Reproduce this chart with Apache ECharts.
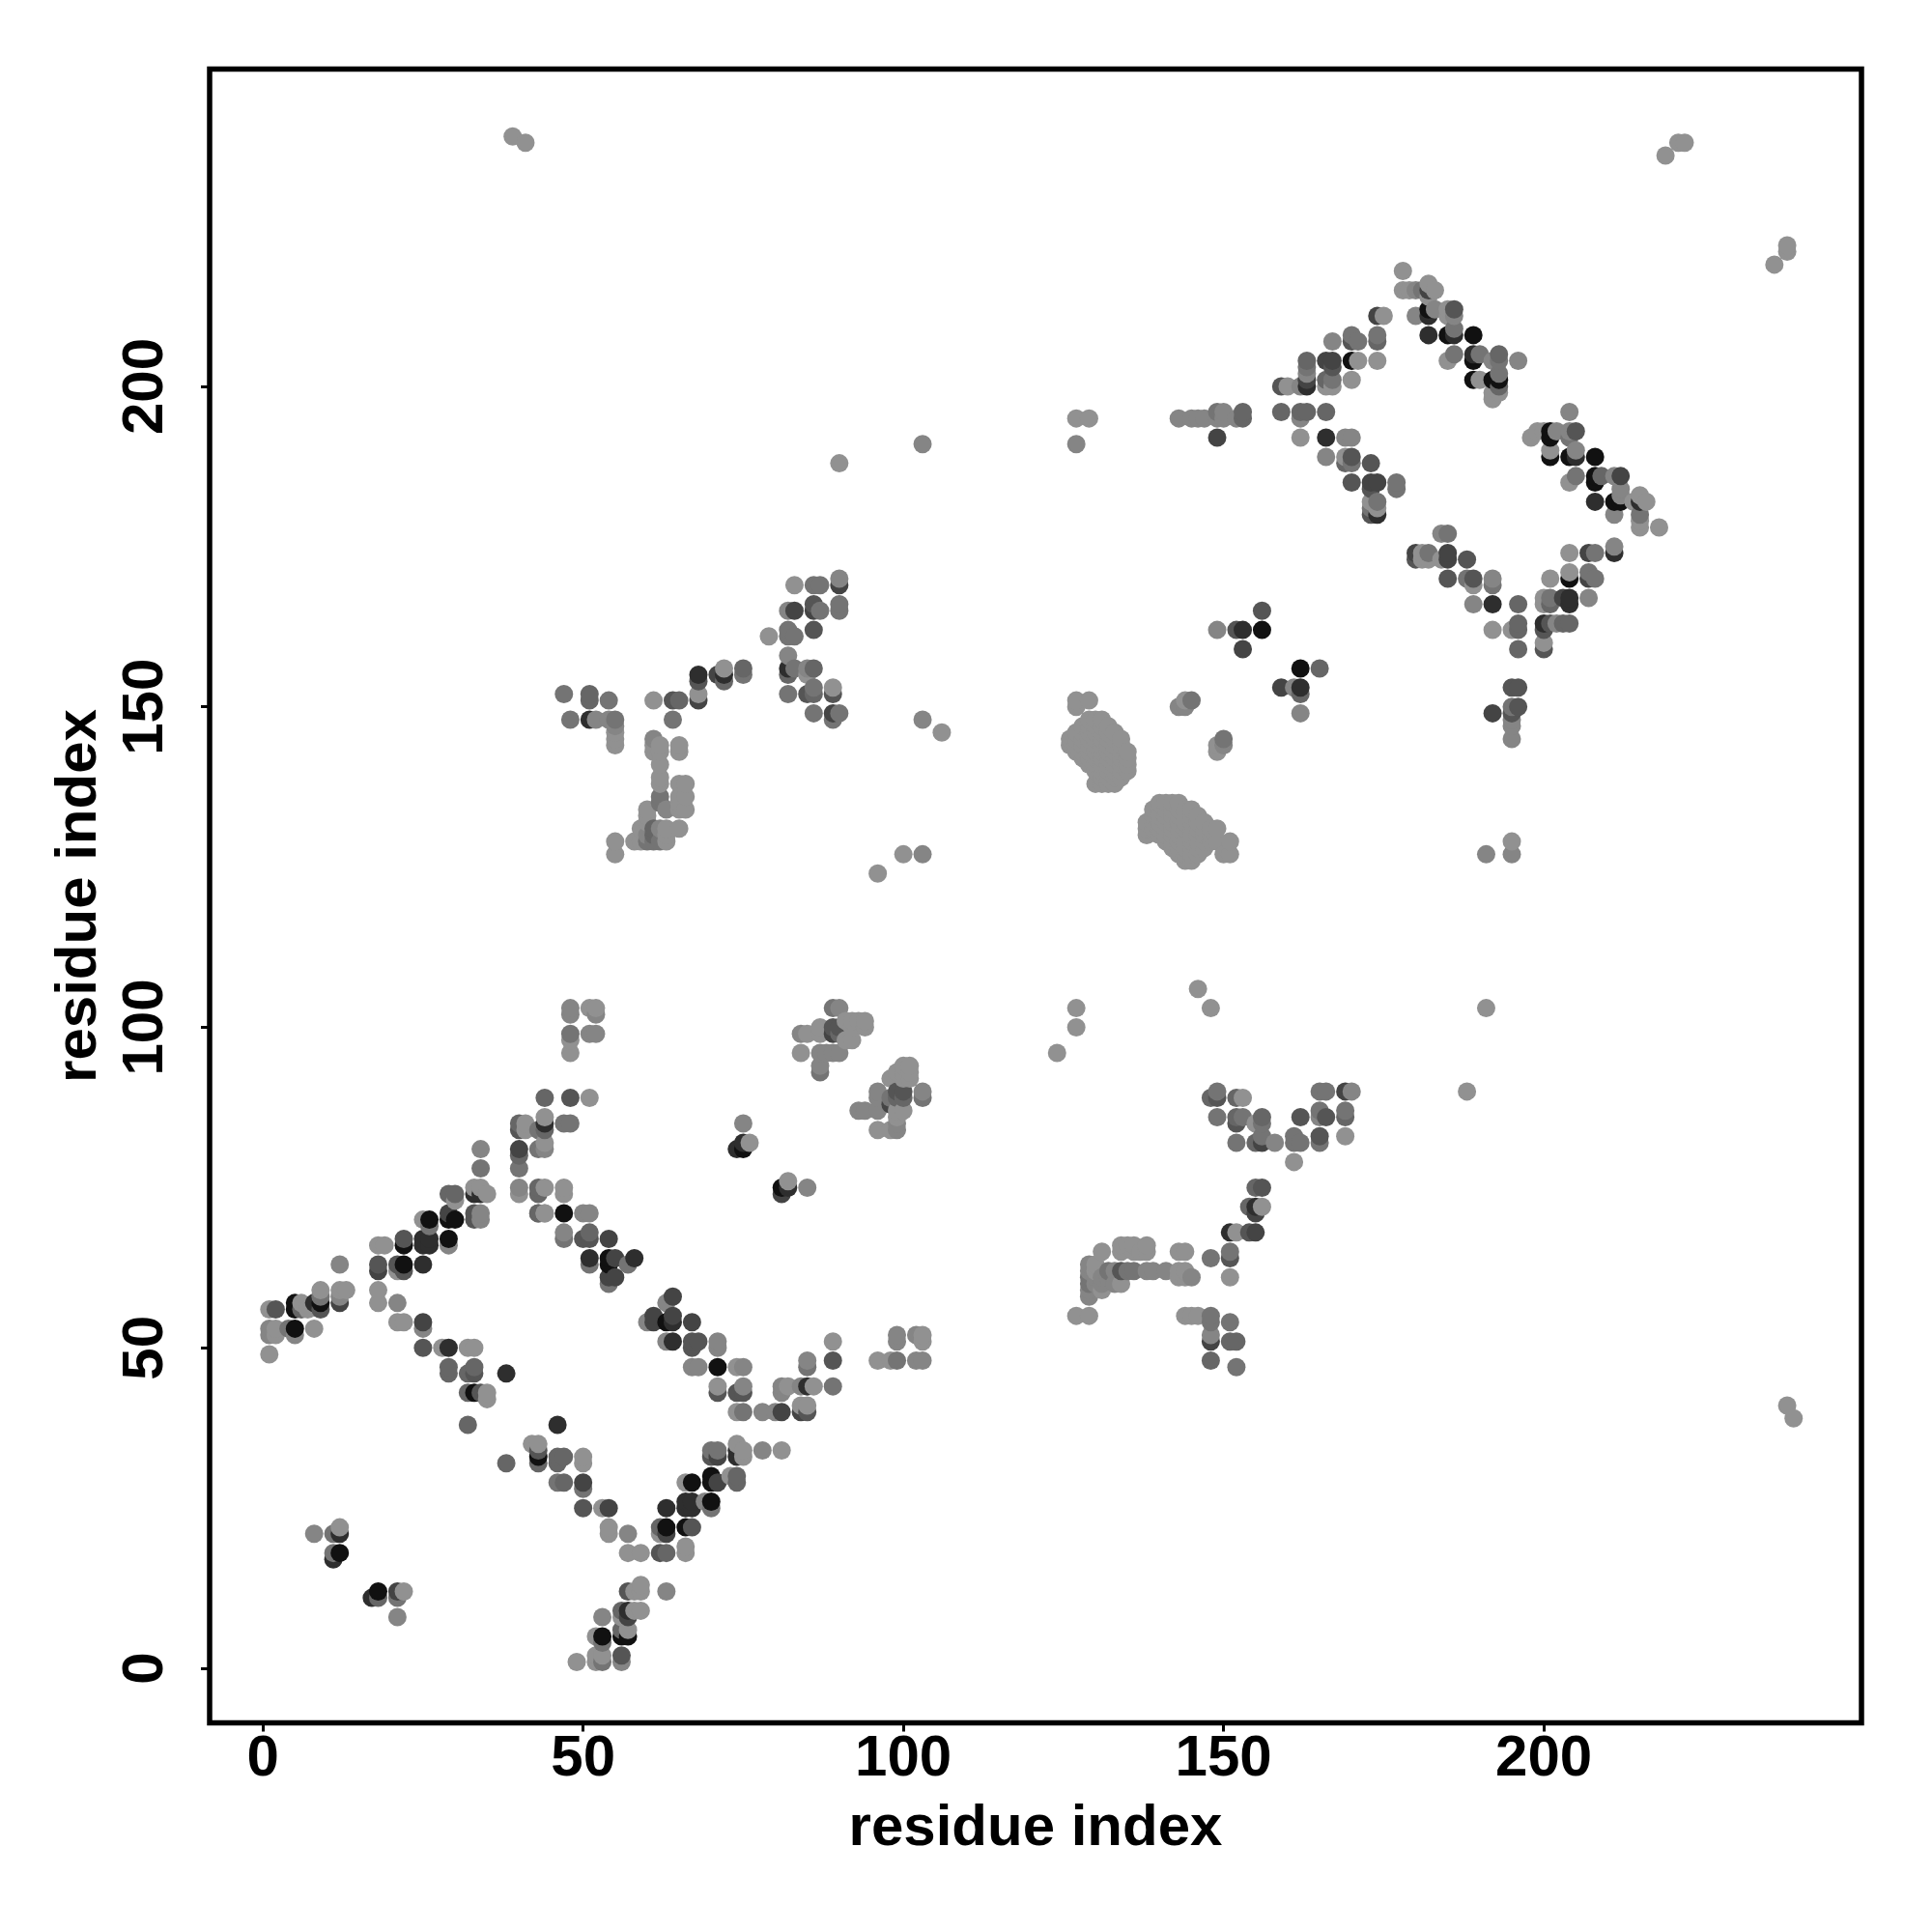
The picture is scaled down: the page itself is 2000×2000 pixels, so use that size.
<!DOCTYPE html>
<html><head><meta charset="utf-8">
<style>html,body{margin:0;padding:0;background:#fff}#c{width:2000px;height:2000px}</style>
<script src="https://cdn.jsdelivr.net/npm/echarts@6/dist/echarts.min.js"></script>
</head><body><div id="c"></div>
<script>
// every contact: [residue i, residue j, strength level 0..7]
const xTicks=[0,50,100,150,200];
const yTicks=[0,50,100,150,200];
const axisTitle='residue index';
const shades=['#919191','#858585','#747474','#666666','#555555','#444444','#2e2e2e','#111111'];

const strandsLow=[[1,49,0],[1,53,1],[2,53,0],[1,52,1],[2,52,0],[5,53,7],[5,52,1],[4,53,2],[8,53,0],[1,56,0],[2,56,4],[5,56,7],[5,57,7],[6,57,0],[6,56,3],[7,56,0],[8,57,6],[9,57,7],[9,56,4],[9,58,2],[9,59,0],[12,57,5],[12,58,1],[12,59,0],[13,59,0],[12,63,1],[18,63,4],[18,62,5],[21,62,0],[21,63,4],[22,63,7],[22,62,4],[25,63,6],[18,66,0],[19,66,0],[22,67,4],[22,66,7],[25,67,6],[25,66,6],[26,67,6],[26,66,6],[29,67,7],[29,66,1],[25,70,0],[26,70,7],[26,69,2],[29,70,7],[30,70,7],[29,71,5],[33,70,4],[34,70,1],[34,71,1],[33,71,4],[43,71,3],[44,71,0],[18,59,0],[18,57,0],[21,57,1],[21,54,0],[22,54,0],[25,54,5],[25,53,1],[25,50,4],[28,50,0],[29,50,6],[32,50,0],[33,50,0],[29,47,3],[29,46,3],[32,46,3],[33,47,3],[33,46,4],[38,46,6],[32,43,3],[33,43,7],[34,43,4],[35,43,0],[35,42,0],[32,38,3],[38,32,3],[42,35,0],[43,35,0],[43,34,4],[43,33,7],[43,32,3],[29,74,3],[30,74,3],[30,73,0],[33,74,6],[34,74,6],[35,74,0],[33,75,0],[34,75,0],[34,78,2],[34,81,1]];
const strandsMid=[[46,38,6],[46,33,3],[46,32,3],[47,33,3],[50,33,0],[50,32,0],[46,29,2],[47,29,3],[50,29,5],[50,28,2],[50,25,4],[53,25,0],[54,25,5],[54,22,0],[54,21,0],[57,21,1],[57,18,0],[59,18,0],[62,18,4],[63,18,3],[66,18,0],[66,19,0],[62,22,3],[62,21,0],[63,22,7],[63,21,5],[66,22,7],[67,22,4],[63,25,6],[66,25,6],[67,26,6],[67,25,6],[66,26,6],[69,26,1],[70,26,7],[70,25,2],[66,29,0],[67,29,7],[70,30,7],[70,29,7],[71,29,5],[73,30,0],[74,30,3],[74,29,3],[70,34,2],[70,33,4],[71,34,2],[71,33,5],[74,35,0],[74,34,6],[74,33,6],[75,34,0],[75,33,0],[78,34,1],[81,34,0],[74,40,0],[75,40,2],[78,40,1],[80,40,1],[81,40,5],[84,40,5],[85,40,4],[84,41,0],[85,41,0]];
const cornerLow=[[18,12,7],[17,11,6],[18,11,3],[21,12,5],[22,12,0],[21,11,2],[21,8,1],[12,22,0],[12,21,6],[11,21,2],[12,18,7],[11,18,2],[11,17,6],[8,21,1],[59,13,0],[57,12,4],[58,12,0],[59,12,0],[63,12,1],[56,9,3],[57,9,6],[57,8,5],[56,8,0],[58,9,0],[59,9,0],[53,8,1],[53,5,7],[52,5,0],[56,6,3],[56,5,7],[57,6,0],[57,5,7],[53,4,2],[49,1,0],[52,2,0],[52,1,0],[53,2,0],[53,1,2],[56,2,4],[56,1,1]];
const diamondBlock=[[48,103,1],[48,102,1],[48,99,2],[48,98,0],[48,96,0],[51,103,0],[52,103,0],[52,102,1],[51,99,1],[52,99,1],[44,89,3],[48,89,4],[51,89,0],[40,85,3],[40,84,4],[41,85,0],[41,84,0],[44,86,0],[44,85,6],[44,84,3],[43,84,2],[47,85,2],[48,85,2],[40,81,5],[40,80,3],[40,78,2],[43,81,2],[44,82,0],[44,81,1],[40,75,1],[40,74,0],[43,75,3],[43,74,3],[44,75,0],[47,75,0],[47,74,0],[43,71,3],[44,71,0],[47,71,7],[50,71,1],[51,71,1],[47,68,1],[47,67,2],[50,67,4],[51,68,3],[51,67,4],[54,67,5],[51,64,6],[51,63,2],[54,64,7],[54,63,7],[55,64,5],[57,63,2],[58,64,6],[54,60,2],[54,61,5],[55,61,5],[63,57,1],[64,58,5],[60,54,1],[61,55,5],[61,54,5],[63,54,7],[64,55,5],[64,54,6],[67,54,5],[63,51,1],[64,51,6],[67,51,4],[68,51,4],[67,50,4],[71,51,1],[71,50,1],[67,47,1],[68,47,1],[71,47,7],[74,47,0],[75,47,1],[71,44,0],[71,43,4],[74,43,4],[75,44,1],[75,43,4],[81,44,1],[81,43,1],[82,44,0],[84,44,1],[85,44,6],[86,44,0],[85,48,1],[85,47,2],[89,51,0],[89,48,4],[89,44,2],[96,48,0],[98,48,0],[99,48,2],[102,48,1],[103,48,1],[99,52,1],[99,51,1],[102,52,1],[103,52,0],[103,51,0],[75,85,1],[74,81,6],[75,82,6],[75,81,7],[76,82,0],[81,75,7],[81,74,5],[82,76,0],[82,75,6],[85,75,1]];
const helixBlock=[[84,99,1],[84,96,0],[85,99,0],[87,100,0],[87,99,0],[87,96,1],[87,94,1],[87,93,2],[88,96,1],[89,103,2],[90,103,1],[89,100,4],[90,100,4],[89,99,5],[90,99,3],[89,96,1],[90,96,1],[91,101,0],[91,98,0],[92,101,0],[92,100,0],[92,98,0],[93,101,0],[94,101,0],[94,100,0],[93,87,1],[94,87,1],[96,90,1],[96,89,1],[96,87,1],[96,84,0],[98,84,0],[99,84,1],[99,85,1],[98,92,0],[98,89,2],[98,88,5],[99,93,0],[100,94,0],[101,94,0],[100,93,0],[101,93,0],[100,92,0],[101,92,0],[99,90,4],[100,90,4],[99,89,3],[100,89,3],[99,87,0],[100,87,0],[99,86,0],[103,90,1],[103,89,2]];
const blockRight=[[149,90,2],[148,89,3],[149,89,4],[152,89,3],[153,89,0],[149,86,2],[152,86,3],[152,85,4],[153,86,2],[155,85,0],[156,86,3],[156,85,2],[152,82,2],[155,82,3],[156,82,5],[156,83,2],[158,82,1],[162,86,4],[165,86,1],[165,87,2],[166,86,4],[165,90,2],[166,90,2],[169,90,5],[170,90,1],[169,87,2],[169,86,3],[169,83,0],[161,83,2],[162,82,2],[161,82,2],[165,83,4],[165,82,2],[161,79,0],[155,75,3],[156,75,4],[154,72,3],[155,72,6],[156,72,0],[155,71,5],[151,68,6],[152,68,0],[154,68,4],[155,68,5],[151,65,2],[151,64,4],[148,64,2],[151,61,0],[127,55,0],[129,55,0],[131,65,0],[134,66,0],[134,65,0],[135,66,0],[136,66,0],[138,66,0],[138,65,0],[136,65,0],[137,65,0],[129,63,1],[129,62,1],[129,61,2],[129,60,2],[129,59,1],[129,58,1],[130,63,0],[130,62,0],[130,61,1],[130,60,1],[131,61,1],[131,60,1],[131,59,0],[132,62,2],[132,61,1],[133,62,1],[133,60,1],[134,60,0],[134,62,4],[135,62,2],[136,62,2],[138,62,1],[139,62,1],[141,62,1],[143,65,0],[144,65,0],[143,62,0],[144,62,0],[143,61,0],[144,61,0],[145,61,1],[144,55,0],[145,55,0],[146,55,0],[148,55,2],[151,54,2],[148,54,2],[148,52,1],[148,51,5],[151,51,3],[152,51,3],[148,48,3],[152,47,2]];
const diamondTopLeft=[[174,211,5],[175,211,0],[167,207,1],[170,208,2],[170,207,4],[171,207,2],[174,208,2],[174,207,3],[166,204,5],[167,204,5],[167,203,4],[170,204,7],[171,204,0],[174,204,0],[163,204,3],[163,203,2],[163,202,1],[163,201,5],[163,200,6],[159,200,4],[160,200,0],[162,200,1],[166,201,3],[166,200,0],[167,201,2],[167,200,0],[170,201,0],[159,196,3],[162,196,3],[162,195,1],[163,196,3],[166,196,3],[162,192,0],[166,192,6],[169,192,1],[170,192,1],[166,189,1],[169,189,0],[170,189,4],[170,188,2],[169,188,3],[173,188,4],[170,185,4],[173,185,5],[174,185,5],[173,184,4],[177,185,2],[177,184,2],[173,182,0],[174,182,2],[173,181,2],[174,181,0],[173,180,4],[174,180,6]];
const diamondTopRight=[[178,218,0],[178,215,0],[179,215,0],[180,215,1],[181,215,2],[182,216,0],[182,215,5],[183,215,0],[182,214,0],[180,211,1],[182,212,7],[182,211,6],[183,212,1],[185,212,0],[185,211,0],[186,212,4],[186,211,1],[182,208,6],[185,208,7],[186,208,6],[186,209,2],[189,208,7],[185,204,0],[186,205,2],[189,205,6],[189,204,7],[190,205,2],[192,204,1],[193,205,3],[193,204,2],[196,204,1],[189,201,7],[190,201,0],[192,201,7],[193,202,2],[193,201,7],[193,200,3],[192,199,0],[192,198,0],[193,199,0],[204,196,1],[198,192,0],[199,193,0],[200,193,0],[201,193,7],[201,192,7],[202,193,1],[204,193,1],[204,192,2],[205,193,4],[201,190,0],[201,189,7],[204,189,7],[205,190,1],[205,189,6],[208,189,7],[204,185,0],[205,186,2],[208,186,7],[208,185,7],[209,186,3],[211,186,1],[212,186,5],[212,184,1],[212,183,1],[208,182,6],[211,182,7],[212,182,7],[211,180,1],[214,182,0],[215,183,0],[215,182,6],[216,182,0],[215,180,2],[215,179,0],[215,178,0],[218,178,0]];
const diamondBottomRight=[[184,177,1],[185,177,2],[180,174,5],[181,174,0],[182,174,2],[180,173,4],[181,173,0],[182,173,0],[185,174,5],[185,173,5],[184,173,0],[188,173,4],[185,170,4],[188,170,2],[189,170,4],[189,169,0],[192,170,1],[192,169,2],[189,166,1],[192,166,6],[196,166,3],[192,162,0],[195,162,0],[196,163,3],[196,162,3],[196,159,3],[200,163,6],[201,163,4],[202,163,1],[203,163,3],[204,163,3],[200,162,4],[200,160,0],[200,159,4],[200,167,0],[201,167,2],[201,166,3],[200,166,0],[203,167,5],[204,167,6],[204,166,6],[207,167,1],[201,170,0],[204,171,0],[204,170,7],[207,171,2],[207,170,5],[208,170,2],[204,174,0],[207,174,5],[208,174,2],[211,175,1],[211,174,6]];
const blockUpperLeft=[[47,152,2],[51,152,3],[51,151,3],[54,151,2],[48,148,2],[51,148,6],[52,148,1],[54,148,1],[55,148,2],[55,147,1],[55,146,0],[55,145,0],[55,144,0],[61,151,0],[64,151,4],[65,151,3],[68,155,6],[68,154,4],[68,152,0],[68,151,5],[71,155,5],[72,156,0],[72,155,6],[72,154,3],[75,156,3],[75,155,2],[64,148,2],[61,145,1],[61,144,0],[62,144,0],[62,143,0],[61,143,0],[65,144,0],[65,143,0],[62,141,0],[62,139,0],[62,138,0],[62,136,2],[62,135,2],[65,138,0],[66,138,0],[65,136,0],[66,136,0],[65,135,0],[65,134,0],[66,134,0],[63,134,1],[60,134,0],[60,133,0],[60,132,0],[59,131,0],[65,131,0],[63,131,0],[63,130,0],[63,129,0],[58,129,0],[59,129,0],[60,129,2],[61,129,2],[62,129,2],[60,130,1],[61,131,3],[62,131,1],[61,130,3],[55,129,0],[55,127,0]];
const blockUpperRight=[[83,169,0],[86,169,2],[87,169,2],[90,170,1],[90,169,5],[82,165,1],[83,165,5],[86,166,4],[86,165,5],[87,165,2],[90,166,2],[90,165,2],[79,161,0],[82,162,2],[82,161,2],[83,161,2],[86,162,4],[82,158,1],[82,156,6],[82,155,3],[83,156,2],[85,156,1],[85,155,0],[86,156,3],[82,152,2],[85,152,4],[86,153,2],[86,152,3],[89,153,0],[89,152,4],[86,149,2],[89,149,5],[89,148,2],[90,149,2]];
const centralA=[[129,148,0],[130,148,0],[131,148,0],[128,147,0],[129,147,0],[130,147,0],[131,147,0],[132,147,0],[127,146,0],[128,146,0],[129,146,0],[130,146,0],[131,146,0],[132,146,0],[133,146,0],[126,145,0],[127,145,0],[128,145,0],[129,145,0],[130,145,0],[131,145,0],[132,145,0],[133,145,0],[134,145,0],[126,144,0],[127,144,0],[128,144,0],[129,144,0],[130,144,0],[131,144,0],[132,144,0],[133,144,0],[134,144,0],[127,143,0],[128,143,0],[129,143,0],[130,143,0],[131,143,0],[132,143,0],[133,143,0],[134,143,0],[135,143,0],[128,142,0],[129,142,0],[130,142,0],[131,142,0],[132,142,0],[133,142,0],[134,142,0],[135,142,0],[129,141,0],[130,141,0],[131,141,0],[132,141,0],[133,141,0],[134,141,0],[135,141,0],[130,140,0],[131,140,0],[132,140,0],[133,140,0],[134,140,0],[135,140,0],[131,139,0],[132,139,0],[133,139,0],[134,139,0],[130,138,0],[131,138,0],[132,138,0],[133,138,0],[127,151,0],[129,151,0],[127,150,0]];
const centralB=[[148,129,0],[148,130,0],[148,131,0],[147,128,0],[147,129,0],[147,130,0],[147,131,0],[147,132,0],[146,127,0],[146,128,0],[146,129,0],[146,130,0],[146,131,0],[146,132,0],[146,133,0],[145,126,0],[145,127,0],[145,128,0],[145,129,0],[145,130,0],[145,131,0],[145,132,0],[145,133,0],[145,134,0],[144,126,0],[144,127,0],[144,128,0],[144,129,0],[144,130,0],[144,131,0],[144,132,0],[144,133,0],[144,134,0],[143,127,0],[143,128,0],[143,129,0],[143,130,0],[143,131,0],[143,132,0],[143,133,0],[143,134,0],[143,135,0],[142,128,0],[142,129,0],[142,130,0],[142,131,0],[142,132,0],[142,133,0],[142,134,0],[142,135,0],[141,129,0],[141,130,0],[141,131,0],[141,132,0],[141,133,0],[141,134,0],[141,135,0],[140,130,0],[140,131,0],[140,132,0],[140,133,0],[140,134,0],[140,135,0],[139,131,0],[139,132,0],[139,133,0],[139,134,0],[138,130,0],[138,131,0],[138,132,0],[151,129,0],[151,127,0],[150,127,0],[149,131,0],[149,129,0]];
const sparse=[[39,239,0],[41,238,0],[219,236,0],[221,238,0],[222,238,0],[236,219,0],[238,222,0],[238,221,0],[238,41,0],[239,39,0],[90,188,0],[103,191,1],[127,195,0],[129,195,0],[127,191,1],[143,195,1],[145,195,1],[146,195,1],[147,195,1],[149,196,2],[149,195,1],[150,196,1],[150,195,1],[149,192,5],[153,196,3],[153,195,3],[152,195,1],[103,148,1],[106,146,0],[96,124,0],[100,127,0],[103,127,1],[127,103,0],[127,100,0],[124,96,0],[146,106,0],[148,103,0],[191,103,0],[188,90,0],[191,127,1],[195,129,0],[195,127,1],[143,150,1],[144,150,1],[145,151,2],[144,151,0],[149,143,0],[149,144,0],[150,145,2],[150,144,1],[149,162,1],[152,162,4],[153,162,6],[153,159,5],[156,162,7],[156,165,4],[159,153,5],[161,153,1],[162,156,7],[162,153,6],[162,152,3],[162,149,1],[165,156,3],[192,149,5],[195,153,4],[196,153,4],[195,150,2],[196,150,4],[195,149,4],[195,148,1],[195,147,1],[195,145,1]];

const contacts=[].concat(strandsLow,strandsMid,cornerLow,diamondBlock,helixBlock,blockRight,diamondTopLeft,diamondTopRight,diamondBottomRight,blockUpperLeft,blockUpperRight,centralA,centralB,sparse);
const ordered=contacts.slice().sort((a,b)=>a[0]-b[0]||a[1]-b[1]);

const font='"Liberation Sans", Arial, sans-serif';
const common={
  axisLine:{show:false,onZero:false},
  splitLine:{show:false},
  nameLocation:'middle',
  nameTextStyle:{fontFamily:font,fontWeight:'bold',fontSize:60,color:'#000'}
};
const chart=echarts.init(document.getElementById('c'),null,{renderer:'canvas'});
chart.setOption({
  animation:false,
  backgroundColor:'#fff',
  grid:{left:217,top:71.5,width:1710,height:1712,show:true,borderColor:'#000',borderWidth:5.5,backgroundColor:'#fff'},
  xAxis:Object.assign({type:'value',min:-8.32,max:249.6,name:axisTitle,nameGap:80,
    axisTick:{show:true,length:9,lineStyle:{width:3,color:'#000'},customValues:xTicks},
    axisLabel:{fontFamily:font,fontWeight:'bold',fontSize:60,color:'#000',margin:8,customValues:xTicks,hideOverlap:false}},common),
  yAxis:Object.assign({type:'value',min:-8.5,max:249.5,name:axisTitle,nameGap:105,
    axisTick:{show:true,length:9,lineStyle:{width:3,color:'#000'},customValues:yTicks},
    axisLabel:{fontFamily:font,fontWeight:'bold',fontSize:60,color:'#000',rotate:90,margin:36,customValues:yTicks,hideOverlap:false}},common),
  series:[{type:'scatter',symbol:'circle',symbolSize:19,data:ordered,
    itemStyle:{opacity:1,color:p=>shades[p.value[2]]},
    encode:{x:0,y:1},clip:true,silent:true,progressive:0}]
});
</script></body></html>
